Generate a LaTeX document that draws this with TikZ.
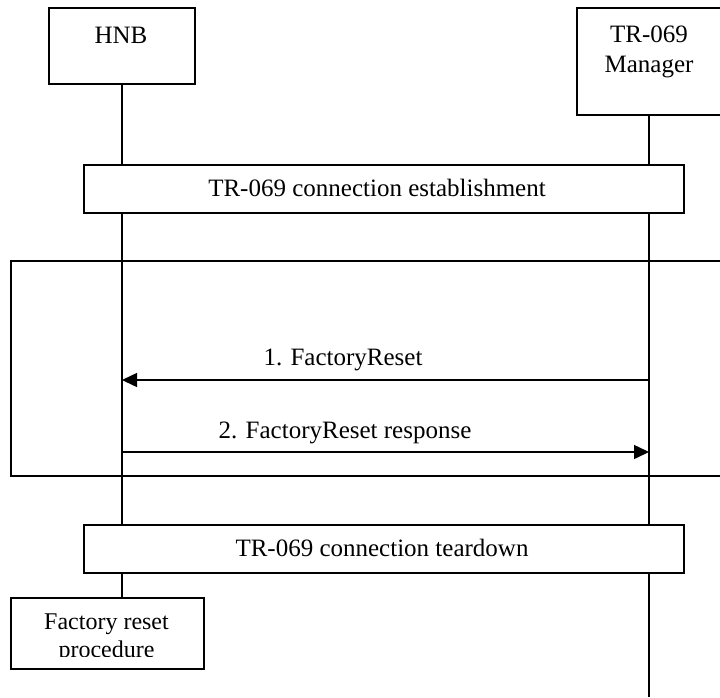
\documentclass[tikz,border=0pt]{standalone}
\usepackage{fontspec}
\setmainfont{Liberation Serif}
\usetikzlibrary{arrows.meta}
\tikzset{
  ln/.style={line width=1.5pt, draw=black},
  box/.style={ln, fill=white, rectangle, inner sep=0pt, anchor=north west},
  txt/.style={inner sep=0pt, font=\fontsize{25}{30}\selectfont},
  msg/.style={ln, -{Triangle[length=15pt,width=14pt]}},
}
\begin{document}
\begin{tikzpicture}[x=1pt,y=-1pt]
\clip (0,0) rectangle (720,697);
\fill[white] (0,0) rectangle (720,697);
% lifeline anchors
\coordinate (hnbtop) at (122,83);
\coordinate (hnbbot) at (122,597);
\coordinate (mgrtop) at (649,114);
\coordinate (mgrbot) at (649,697);
\draw[ln] (hnbtop) -- (hnbbot);
\draw[ln] (mgrtop) -- (mgrbot);
% heads
\node[box, minimum width=146pt, minimum height=76pt] (hnb) at (48,7) {};
\node[txt, anchor=base] (hnbt) at (121,43) {HNB};
\node[box, minimum width=146pt, minimum height=107pt] (mgr) at (576,7) {};
\node[txt, anchor=north, align=center] (mgrt) at (649,26) {TR-069\\Manager};
% establishment
\node[box, minimum width=600pt, minimum height=48pt] (est) at (83,164) {};
\node[txt, anchor=base] (estt) at (377,196) {TR-069 connection establishment};
% frame
\node[box, fill=none, minimum width=714pt, minimum height=215pt] (frame) at (10,260) {};
% messages
\coordinate (m1s) at (649,380);
\coordinate (m1e) at (122,380);
\draw[msg] (m1s) -- (m1e);
\node[txt, anchor=base] (m1t) at (343,365) {1. FactoryReset};
\coordinate (m2s) at (122,452);
\coordinate (m2e) at (649,452);
\draw[msg] (m2s) -- (m2e);
\node[txt, anchor=base] (m2t) at (345,438) {2. FactoryReset response};
% teardown
\node[box, minimum width=600pt, minimum height=48pt] (tear) at (83,524) {};
\node[txt, anchor=base] (teart) at (382,556) {TR-069 connection teardown};
% factory reset procedure
\node[box, minimum width=193pt, minimum height=71pt] (fac) at (10,597) {};
\begin{scope}
\clip (10,597) rectangle (203,656);
\node[txt, anchor=base, font=\fontsize{24}{27}\selectfont] (fac1) at (106.5,629) {Factory reset};
\node[txt, anchor=base, font=\fontsize{24}{27}\selectfont] (fac2) at (106.5,657) {procedure};
\end{scope}
\end{tikzpicture}
\end{document}
